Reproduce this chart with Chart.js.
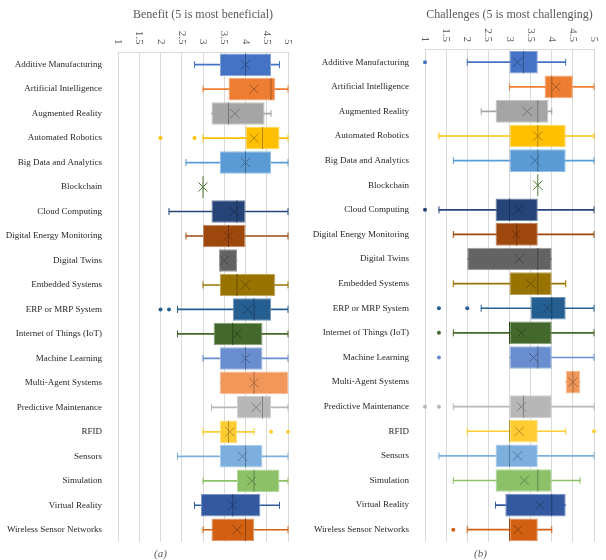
<!DOCTYPE html>
<html>
<head>
<meta charset="utf-8">
<script src="https://cdn.jsdelivr.net/npm/chart.js@4/dist/chart.umd.min.js"></script>
<style>
  body { margin: 0; background: #fff; }
  #wrap { position: relative; width: 606px; height: 560px; }
  canvas { position: absolute; top: 0; }
  #left { left: 0; }
  #right { left: 303px; }
  .cap { position: absolute; top: 547px; font: italic 11px "Liberation Serif", serif; color: #595959; }
</style>
</head>
<body>
<div id="wrap">
  <canvas id="left" width="303" height="560"></canvas>
  <canvas id="right" width="303" height="560"></canvas>
  <div class="cap" style="left:154px">(a)</div>
  <div class="cap" style="left:474px">(b)</div>
</div>
<script>
const categories = [
  'Additive Manufacturing', 'Artificial Intelligence', 'Augmented Reality', 'Automated Robotics',
  'Big Data and Analytics', 'Blockchain', 'Cloud Computing', 'Digital Energy Monitoring',
  'Digital Twins', 'Embedded Systems', 'ERP or MRP System', 'Internet of Things (IoT)',
  'Machine Learning', 'Multi-Agent Systems', 'Predictive Maintenance', 'RFID', 'Sensors',
  'Simulation', 'Virtual Reality', 'Wireless Sensor Networks'
];
const tickLabels = ['1', '1.5', '2', '2.5', '3', '3.5', '4', '4.5', '5'];

// (a) benefit
const benefitMin    = [2.8, 3.0, 3.2, 3.0, 2.6, 3.0, 2.2, 2.6, 3.4, 3.0, 2.4, 2.4, 3.0, 3.4, 3.2, 3.0, 2.4, 3.0, 2.8, 3.0];
const benefitQ1     = [3.4, 3.6, 3.2, 4.0, 3.4, 3.0, 3.2, 3.0, 3.4, 3.4, 3.7, 3.25, 3.4, 3.4, 3.8, 3.4, 3.4, 3.8, 2.95, 3.2];
const benefitMedian = [4.0, 4.6, 3.6, 4.4, 4.0, 3.0, 3.8, 3.6, 3.4, 3.8, 4.2, 3.7, 4.0, 4.2, 4.4, 3.6, 4.0, 4.2, 3.7, 4.0];
const benefitQ3     = [4.6, 4.7, 4.45, 4.8, 4.6, 3.0, 4.0, 4.0, 3.8, 4.7, 4.6, 4.4, 4.4, 5.0, 4.6, 3.8, 4.4, 4.8, 4.35, 4.2];
const benefitMax    = [4.8, 5.0, 4.6, 5.0, 5.0, 3.0, 5.0, 5.0, 3.8, 5.0, 5.0, 5.0, 5.0, 5.0, 5.0, 4.2, 5.0, 5.0, 4.8, 5.0];
const benefitMean   = [4.0, 4.2, 3.75, 4.2, 4.0, 3.0, 3.73, 3.6, 3.5, 4.0, 4.05, 3.8, 4.0, 4.2, 4.25, 3.63, 3.93, 4.15, 3.7, 3.8];
const benefitOutliers = [[], [], [], [2.0, 2.8], [], [], [], [], [], [], [2.0, 2.2], [], [], [], [], [4.6, 5.0], [], [], [], []];

// (b) challenges
const challengeMin    = [2.0, 3.0, 2.33, 1.33, 1.67, 3.67, 1.33, 1.67, 2.0, 1.67, 2.33, 1.67, 3.0, 4.33, 1.67, 2.0, 1.33, 1.67, 2.67, 2.0];
const challengeQ1     = [3.0, 3.83, 2.67, 3.0, 3.0, 3.67, 2.67, 2.67, 2.0, 3.0, 3.5, 3.0, 3.0, 4.33, 3.0, 3.0, 2.67, 2.67, 2.9, 3.0];
const challengeMedian = [3.33, 4.0, 3.67, 3.67, 3.67, 3.67, 3.0, 3.17, 3.67, 3.67, 4.0, 3.0, 3.67, 4.5, 3.33, 3.0, 3.0, 3.67, 4.0, 3.0];
const challengeQ3     = [3.67, 4.5, 3.92, 4.33, 4.33, 3.67, 3.67, 3.67, 4.0, 4.0, 4.33, 4.0, 4.0, 4.67, 4.0, 3.67, 3.67, 4.0, 4.33, 3.67];
const challengeMax    = [4.33, 5.0, 4.0, 5.0, 5.0, 3.67, 5.0, 5.0, 4.0, 4.33, 5.0, 5.0, 5.0, 4.67, 5.0, 4.33, 5.0, 4.67, 4.33, 4.0];
const challengeMean   = [3.19, 4.1, 3.42, 3.67, 3.6, 3.67, 3.21, 3.15, 3.23, 3.5, 3.9, 3.28, 3.57, 4.5, 3.28, 3.23, 3.19, 3.35, 3.72, 3.2];
const challengeOutliers = [[1.0], [], [], [], [], [], [1.0], [], [], [], [1.33, 2.0], [1.33], [1.33], [], [1.0, 1.33], [5.0], [], [], [], [1.67]];

const colors = [
  '#4472C4', '#ED7D31', '#A5A5A5', '#FFC000', '#5B9BD5', '#70AD47', '#264478', '#9E480E',
  '#636363', '#997300', '#255E91', '#43682B', '#698ED0', '#F1975A', '#B7B7B7', '#FFCD33',
  '#7CAFDD', '#8CC168', '#335AA1', '#D26012'
];

// mix a hex colour toward white (f > 0) or black (f < 0)
function shade(hex, f) {
  const n = parseInt(hex.slice(1), 16);
  let c = [(n >> 16) & 255, (n >> 8) & 255, n & 255];
  c = c.map(v => Math.round(f > 0 ? v + (255 - v) * f : v * (1 + f)));
  return `rgb(${c[0]}, ${c[1]}, ${c[2]})`;
}

const topTicks = {
  id: 'topTicks',
  afterDraw(chart) {
    const s = chart.scales.x;
    const ctx = chart.ctx;
    ctx.save();
    ctx.font = '11px "Liberation Serif"';
    ctx.fillStyle = '#595959';
    ctx.textAlign = 'right';
    ctx.textBaseline = 'middle';
    tickLabels.forEach(t => {
      ctx.save();
      ctx.translate(s.getPixelForValue(parseFloat(t)), chart.chartArea.top - 8);
      ctx.rotate(Math.PI / 2);
      ctx.fillText(t, 0, 0);
      ctx.restore();
    });
    ctx.restore();
  }
};

function boxChart(id, title, mins, q1s, meds, q3s, maxs, means, outliers, axisWidth, axisHeight, padRight) {
  const caps = [], capColors = [];
  const outs = [], outColors = [];
  categories.forEach((c, i) => {
    if (mins[i] < q1s[i]) { caps.push({ x: mins[i], y: c }); capColors.push(colors[i]); }
    if (maxs[i] > q3s[i]) { caps.push({ x: maxs[i], y: c }); capColors.push(colors[i]); }
    outliers[i].forEach(v => { outs.push({ x: v, y: c }); outColors.push(colors[i]); });
  });

  return new Chart(document.getElementById(id), {
    type: 'bar',
    data: {
      labels: categories,
      datasets: [
        {
          // whiskers
          type: 'bar', indexAxis: 'y', grouped: false, order: 6,
          data: mins.map((m, i) => [m, maxs[i]]),
          backgroundColor: colors, barThickness: 1
        },
        {
          type: 'scatter', order: 5, data: caps, clip: false,
          pointStyle: 'line', pointRotation: 90, pointRadius: 3.5,
          pointBorderColor: capColors, pointBorderWidth: 1
        },
        {
          // boxes
          type: 'bar', indexAxis: 'y', grouped: false, order: 4,
          data: q1s.map((q, i) => [q, q3s[i]]),
          backgroundColor: colors,
          borderColor: colors.map(c => shade(c, 0.35)),
          borderWidth: 1, borderSkipped: false,
          barPercentage: 0.92, categoryPercentage: 1
        },
        {
          type: 'scatter', order: 2, clip: false,
          data: meds.map((v, i) => ({ x: v, y: categories[i] })),
          pointStyle: 'line', pointRotation: 90, pointRadius: 11,
          pointBorderColor: colors.map(c => shade(c, -0.3)), pointBorderWidth: 1
        },
        {
          type: 'scatter', order: 1, clip: false,
          data: means.map((v, i) => ({ x: v, y: categories[i] })),
          pointStyle: 'crossRot', pointRadius: 6.5,
          pointBorderColor: colors.map(c => shade(c, -0.3)), pointBorderWidth: 1
        },
        {
          type: 'scatter', order: 1, data: outs, clip: false,
          pointStyle: 'circle', pointRadius: 2,
          pointBackgroundColor: outColors, pointBorderWidth: 0
        }
      ]
    },
    options: {
      responsive: false,
      animation: false,
      events: [],
      layout: { padding: { left: 0, right: padRight, top: 0, bottom: 18 } },
      scales: {
        x: {
          type: 'linear', position: 'top', min: 1, max: 5, offset: false,
          ticks: { display: false, stepSize: 0.5 },
          grid: { color: '#d9d9d9', drawTicks: false, offset: false },
          border: { display: true, color: '#d9d9d9' },
          afterFit: s => { s.height = axisHeight; }
        },
        y: {
          type: 'category', labels: categories, offset: true,
          ticks: { color: '#262626', font: { family: 'Liberation Serif', size: 9 }, padding: 8 },
          grid: { display: false },
          border: { display: false },
          afterFit: s => { s.width = axisWidth; }
        }
      },
      plugins: {
        legend: { display: false },
        tooltip: { enabled: false },
        title: {
          display: true, text: title, fullSize: false,
          color: '#595959', font: { family: 'Liberation Serif', size: 12, weight: 'normal' },
          padding: { top: 8, bottom: 6 }
        }
      }
    },
    plugins: [topTicks]
  });
}

boxChart('left', 'Benefit (5 is most beneficial)',
  benefitMin, benefitQ1, benefitMedian, benefitQ3, benefitMax, benefitMean, benefitOutliers, 118, 24, 15);
boxChart('right', 'Challenges (5 is most challenging)',
  challengeMin, challengeQ1, challengeMedian, challengeQ3, challengeMax, challengeMean, challengeOutliers, 122, 21.5, 9);
</script>
</body>
</html>
